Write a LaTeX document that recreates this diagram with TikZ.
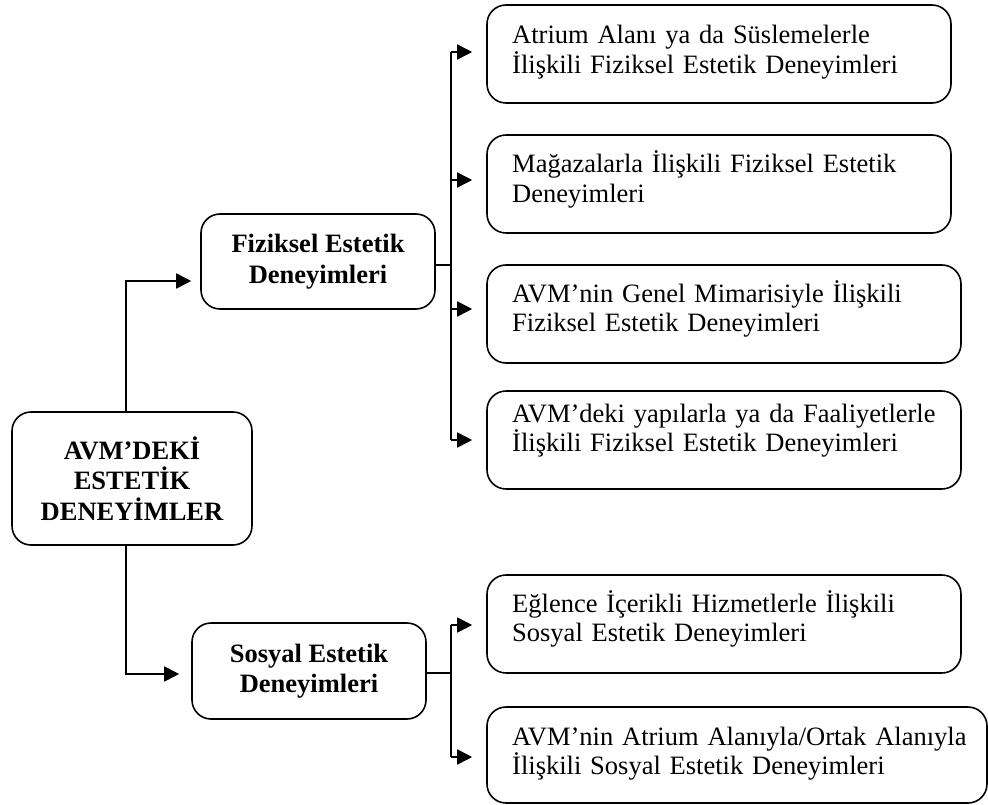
\documentclass[tikz,border=0pt]{standalone}
\usepackage{fontspec}
\setmainfont{Liberation Serif}
\usetikzlibrary{arrows.meta}

\tikzset{
  box/.style={draw, line width=1.6pt, rounded corners=19pt, inner sep=0pt},
  headtext/.style={align=center, font=\fontsize{26.5}{30.5}\selectfont\bfseries},
  leaftext/.style={anchor=base west, inner sep=0pt, text width=470pt, align=left,
    font=\fontsize{26.5}{29.5}\selectfont},
  link/.style={line width=1.8pt},
  thinlink/.style={line width=1.2pt},
  arr/.style={line width=1.8pt, -{Triangle[length=15pt,width=15pt]}},
}

\begin{document}
\begin{tikzpicture}[x=1pt, y=-1pt]
\useasboundingbox (0,0) rectangle (988,805);

% root and the two branch boxes
\node[box, headtext, minimum width=240pt, minimum height=133pt] (root) at (132,478.5)
  {AVM’DEKİ\\ESTETİK\\DENEYİMLER};
\node[box, headtext, minimum width=234pt, minimum height=95pt] (fiz) at (318,261.5)
  {Fiziksel Estetik\\Deneyimleri};
\node[box, headtext, minimum width=234pt, minimum height=96pt] (sos) at (309,671)
  {Sosyal Estetik\\Deneyimleri};

% leaf boxes
\node[box, minimum width=464pt, minimum height=98pt] (b1) at (719,54) {};
\node[box, minimum width=464pt, minimum height=98pt] (b2) at (719,184) {};
\node[box, minimum width=474pt, minimum height=98pt] (b3) at (724,314) {};
\node[box, minimum width=474pt, minimum height=98pt] (b4) at (724,440) {};
\node[box, minimum width=474pt, minimum height=98pt] (b5) at (724,624) {};
\node[box, minimum width=500pt, minimum height=96pt] (b6) at (737,755) {};

% leaf texts
\node[leaftext] (t1) at (512,44) {Atrium Alanı ya da Süslemelerle\\İlişkili Fiziksel Estetik Deneyimleri};
\node[leaftext] (t2) at (512,173) {Mağazalarla İlişkili Fiziksel Estetik\\Deneyimleri};
\node[leaftext] (t3) at (512,302) {AVM’nin Genel Mimarisiyle İlişkili\\Fiziksel Estetik Deneyimleri};
\node[leaftext] (t4) at (512,422) {AVM’deki yapılarla ya da Faaliyetlerle\\İlişkili Fiziksel Estetik Deneyimleri};
\node[leaftext] (t5) at (512,612) {Eğlence İçerikli Hizmetlerle İlişkili\\Sosyal Estetik Deneyimleri};
\node[leaftext] (t6) at (512,745) {AVM’nin Atrium Alanıyla/Ortak Alanıyla\\İlişkili Sosyal Estetik Deneyimleri};

% buses
\coordinate (busA) at (451,0);
\coordinate (busB) at (451,0);

% root to branches
\draw[arr, shorten >=9pt] ([xshift=-6pt]root.north) |- ([yshift=-19.5pt]fiz.west);
\draw[arr, shorten >=12pt] ([xshift=-6pt]root.south) |- ([yshift=-3pt]sos.west);

% physical branch
\draw[thinlink] ([yshift=-3.5pt]fiz.east) -- ([yshift=-3.5pt]fiz.east -| busA);
\draw[link] ([yshift=2pt]b1.west -| busA) -- (b4.west -| busA);
\draw[arr, shorten >=14pt] ([yshift=2pt]b1.west -| busA) -- ([yshift=2pt]b1.west);
\draw[arr, shorten >=14pt] ([yshift=4pt]b2.west -| busA) -- ([yshift=4pt]b2.west);
\draw[arr, shorten >=14pt] ([yshift=5pt]b3.west -| busA) -- ([yshift=5pt]b3.west);
\draw[arr, shorten >=14pt] (b4.west -| busA) -- (b4.west);

% social branch
\draw[thinlink] ([yshift=-2pt]sos.east) -- ([yshift=-2pt]sos.east -| busB);
\draw[link] ([yshift=-1pt]b5.west -| busB) -- ([yshift=-2pt]b6.west -| busB);
\draw[arr, shorten >=14pt] ([yshift=-1pt]b5.west -| busB) -- ([yshift=-1pt]b5.west);
\draw[arr, shorten >=14pt] ([yshift=-2pt]b6.west -| busB) -- ([yshift=-2pt]b6.west);
\end{tikzpicture}
\end{document}
